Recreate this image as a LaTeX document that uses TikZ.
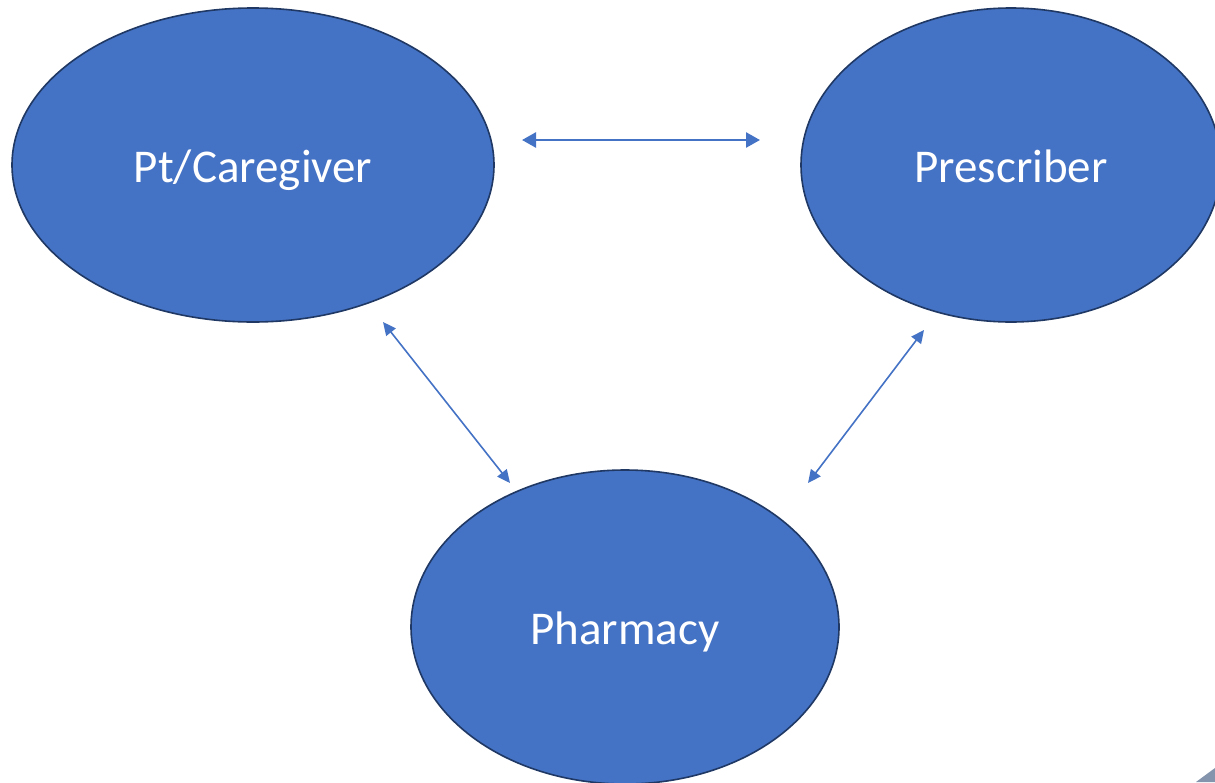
\documentclass[tikz,border=0pt]{standalone}
\usepackage{fontspec}
\setmainfont{Carlito}
\usetikzlibrary{shapes.geometric,arrows.meta}
\definecolor{nodefill}{HTML}{4472C4}
\definecolor{nodeline}{HTML}{1F3864}
\definecolor{arrowblue}{HTML}{4472C4}
\definecolor{cornergray}{HTML}{8394AC}
\tikzset{
  bubble/.style={ellipse, fill=nodefill, draw=nodeline, line width=1.6pt,
    inner sep=0pt, font=\fontsize{47}{56}\selectfont, text=white,
    text height=34pt, text depth=0pt},
  link/.style={draw=arrowblue, line width=1.6pt,
    {Triangle[length=13pt,width=12pt]}-{Triangle[length=13pt,width=12pt]}},
  biglink/.style={draw=arrowblue, line width=2.6pt,
    {Triangle[length=14pt,width=15pt]}-{Triangle[length=14pt,width=15pt]}}
}
\begin{document}
\begin{tikzpicture}[x=1pt,y=-1pt]
\useasboundingbox (0,0) rectangle (1215,782);
\begin{scope}
\clip (0,0) rectangle (1215,782);
\node[bubble, minimum width=482pt, minimum height=314pt] (pt) at (253,165) {Pt/Caregiver};
\node[bubble, minimum width=420pt, minimum height=314pt] (pr) at (1011,165) {Prescriber};
\node[bubble, minimum width=428pt, minimum height=314pt] (ph) at (625,627) {Pharmacy};
\fill[cornergray] (1196,782) -- (1215,768) -- (1215,782) -- cycle;
\end{scope}
\coordinate (h1) at (522,140);
\coordinate (h2) at (760,140);
\coordinate (l1) at (383,322);
\coordinate (l2) at (510,483);
\coordinate (r1) at (924,330);
\coordinate (r2) at (808,483);
\draw[biglink] (h1) -- (h2);
\draw[link] (l1) -- (l2);
\draw[link] (r1) -- (r2);
\end{tikzpicture}
\end{document}
